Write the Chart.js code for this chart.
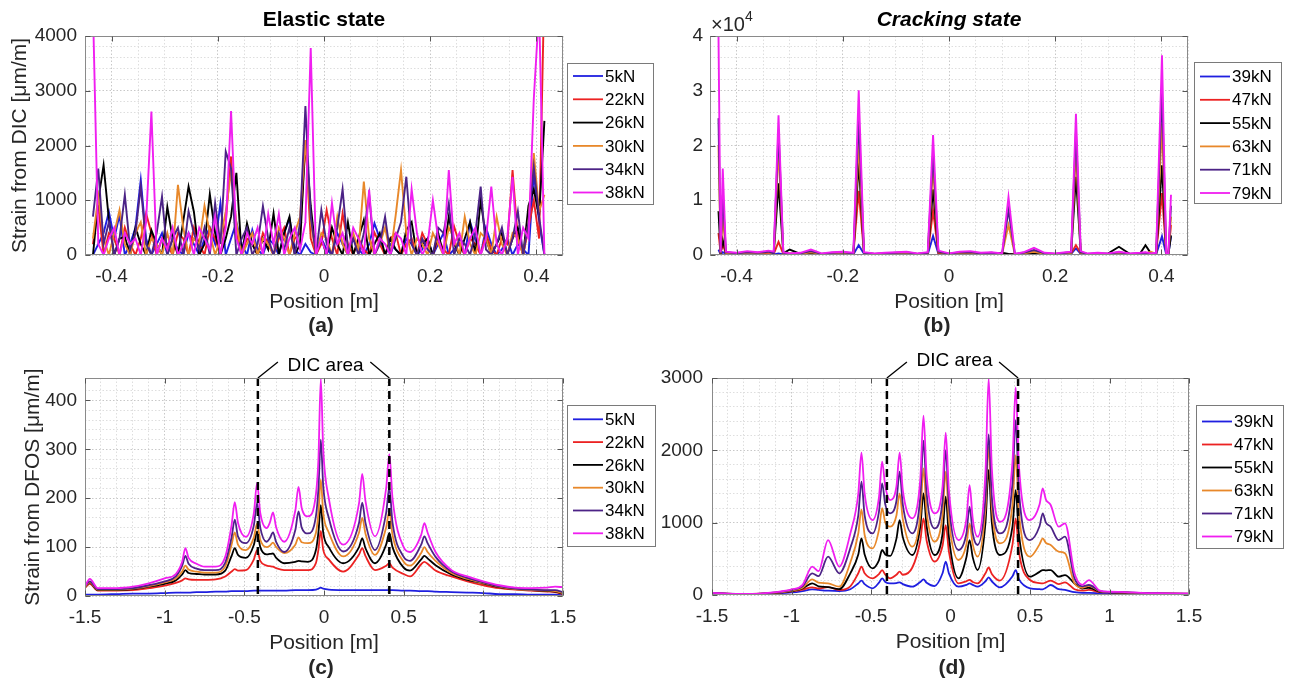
<!DOCTYPE html>
<html lang="en">
<head>
<meta charset="UTF-8">
<title>Strain from DIC and DFOS</title>
<style>
  body { margin: 0; background: #fff; }
  #wrap { position: relative; width: 1289px; height: 684px; }
  canvas { position: absolute; }
</style>
</head>
<body>
<div id="wrap">
  <canvas id="chartA" width="660" height="340" style="left:0;top:0"></canvas>
  <canvas id="chartB" width="629" height="340" style="left:660px;top:0"></canvas>
  <canvas id="chartC" width="660" height="344" style="left:0;top:340px"></canvas>
  <canvas id="chartD" width="629" height="344" style="left:660px;top:340px"></canvas>
</div>
<script src="https://cdn.jsdelivr.net/npm/chart.js"></script>
<script>
// ---- data ----
const elasticLoads = ['5kN', '22kN', '26kN', '30kN', '34kN', '38kN'];
const crackLoads = ['39kN', '47kN', '55kN', '63kN', '71kN', '79kN'];

// tick labels
const xTicksDic = [-0.4, -0.2, 0, 0.2, 0.4];
const yTicksDicE = [0, 1000, 2000, 3000, 4000];
const yTicksDicC = [0, 10000, 20000, 30000, 40000];
const xTicksDfos = [-1.5, -1, -0.5, 0, 0.5, 1, 1.5];
const yTicksDfosE = [0, 100, 200, 300, 400];
const yTicksDfosC = [0, 1000, 2000, 3000];

// DIC area limits drawn on the DFOS plots
const dicAreaE = [-0.415, 0.41];
const dicAreaC = [-0.40, 0.425];

// (a) DIC, elastic state
const dicPosE = [-0.435,-0.425,-0.415,-0.405,-0.395,-0.385,-0.375,-0.365,-0.355,-0.345,
  -0.335,-0.325,-0.315,-0.305,-0.295,-0.285,-0.275,-0.265,-0.255,-0.245,
  -0.235,-0.225,-0.215,-0.205,-0.195,-0.185,-0.175,-0.165,-0.155,-0.145,
  -0.135,-0.125,-0.115,-0.105,-0.095,-0.085,-0.075,-0.065,-0.055,-0.045,
  -0.035,-0.025,-0.015,-0.005,0.005,0.015,0.025,0.035,0.045,0.055,
  0.065,0.075,0.085,0.095,0.105,0.115,0.125,0.135,0.145,0.155,
  0.165,0.175,0.185,0.195,0.205,0.215,0.225,0.235,0.245,0.255,
  0.265,0.275,0.285,0.295,0.305,0.315,0.325,0.335,0.345,0.355,
  0.365,0.375,0.385,0.395,0.405,0.415];
const dicE5 = [0,200,400,790,300,730,0,200,500,1370,
  300,0,200,400,0,300,100,0,400,200,
  0,300,500,200,945,0,300,600,200,0,
  457,100,0,300,200,0,400,670,100,0,
  200,50,0,300,100,0,400,200,0,300,
  100,0,200,580,300,0,200,100,0,300,
  200,0,100,300,0,200,400,0,100,200,
  0,600,300,0,500,200,0,100,300,0,
  200,100,0,1500,600,0];
const dicE22 = [200,900,0,400,300,0,500,200,0,300,
  760,400,0,300,200,0,400,300,0,500,
  200,0,500,300,0,600,1800,400,0,300,
  200,0,400,200,0,300,500,0,300,400,
  2100,300,0,200,820,300,0,760,200,0,
  300,100,0,410,200,0,300,400,0,200,
  300,0,400,200,0,300,100,0,520,200,
  0,300,200,0,400,100,0,300,200,1550,
  300,0,500,1000,300,5000];
const dicE26 = [0,1000,1640,640,0,300,330,0,500,200,
  0,455,200,0,880,300,0,620,1250,790,
  0,200,1110,400,0,300,700,1500,0,580,
  200,0,300,100,760,0,400,700,0,200,
  2100,900,0,300,0,500,200,0,600,0,
  300,640,0,200,400,0,300,100,0,455,
  600,0,200,300,0,400,0,700,200,0,
  300,600,0,1000,300,0,200,400,0,300,
  500,0,900,1200,700,2450];
const dicE30 = [300,1065,300,0,400,820,200,0,400,600,
  0,300,200,0,400,0,1280,500,0,300,
  200,900,400,0,300,800,1500,600,0,200,
  400,0,300,200,0,500,300,0,400,700,
  2100,600,0,400,300,0,700,200,0,400,
  100,1340,300,0,200,500,0,730,1550,400,
  0,300,200,0,400,200,0,500,300,0,
  700,200,0,400,300,0,700,200,0,400,
  300,0,600,1860,800,1100];
const dicE34 = [700,1580,200,600,0,300,1100,100,400,1250,
  200,0,400,1065,0,300,500,0,800,400,
  100,500,0,945,200,1890,1580,0,300,500,
  0,200,895,300,0,400,100,500,0,600,
  2720,700,0,820,200,0,500,1200,100,300,
  0,400,1100,0,200,700,0,300,600,1430,
  200,0,300,100,0,500,400,945,0,300,
  200,0,400,1250,100,0,200,500,0,300,
  800,0,600,1610,700,0];
const dicE38 = [4500,200,0,300,500,0,400,200,300,0,
  600,2620,0,300,100,500,0,200,400,0,
  500,300,100,700,0,500,2630,300,0,400,
  200,500,0,750,200,750,0,300,500,100,
  600,3780,0,300,0,950,200,400,0,500,
  300,0,1190,0,300,200,0,400,300,0,
  1200,400,0,200,1000,300,0,1550,200,400,
  0,300,500,0,300,1250,200,0,300,1430,
  0,500,300,2850,4500,0];

// (b) DIC, cracking state
const dicPosC = [-0.434,-0.43,-0.426,-0.42,-0.40,-0.38,-0.36,-0.34,-0.33,-0.321,
  -0.312,-0.30,-0.28,-0.26,-0.24,-0.22,-0.20,-0.18,-0.17,-0.16,
  -0.14,-0.12,-0.10,-0.08,-0.06,-0.04,-0.03,-0.02,0.0,0.02,
  0.04,0.06,0.08,0.1,0.112,0.124,0.14,0.16,0.18,0.2,
  0.22,0.23,0.239,0.248,0.26,0.28,0.3,0.32,0.34,0.36,
  0.37,0.38,0.39,0.401,0.409,0.413,0.418];
const dicC39 = [1000,100,500,200,100,200,100,200,100,300,
  100,100,100,200,100,100,200,100,1800,200,
  100,100,100,200,100,100,3500,200,100,100,
  200,100,100,100,100,100,100,200,100,100,
  100,200,1200,200,100,100,100,200,100,100,
  200,100,100,3400,100,100,3400];
const dicC47 = [4000,300,2000,200,200,200,200,300,200,2400,
  200,300,200,300,200,200,200,200,11700,200,
  200,200,200,300,200,200,8100,300,200,200,
  300,200,200,200,100,100,200,300,200,200,
  200,300,1800,300,200,200,200,300,200,200,
  300,200,200,11300,200,200,5500];
const dicC55 = [8000,300,2800,300,200,300,300,600,200,13100,
  300,1000,200,400,200,300,300,200,17000,300,
  200,300,200,300,200,300,12000,500,200,300,
  300,200,200,400,200,100,300,300,300,200,
  200,300,14300,400,200,200,300,1500,200,300,
  1800,300,200,16400,200,100,3600];
const dicC63 = [20000,300,7000,400,200,400,300,500,200,19500,
  300,200,200,500,200,300,400,200,20500,300,
  200,200,300,400,200,300,16000,500,200,400,
  400,200,300,200,5500,100,300,600,200,200,
  300,400,19000,400,200,200,200,400,200,200,
  300,600,200,24000,200,100,7000];
const dicC71 = [25000,400,11000,500,300,500,400,600,300,22800,
  400,200,300,700,200,400,500,300,25000,400,
  200,300,400,500,200,400,18500,600,200,500,
  500,300,400,200,8200,200,400,900,300,200,
  400,500,22500,500,200,300,200,500,200,300,
  400,200,300,30000,200,100,9000];
const dicC79 = [40000,500,15800,600,400,700,500,800,600,25500,
  500,300,400,1000,300,500,600,400,30100,500,
  300,400,500,600,300,500,21900,800,300,600,
  700,400,500,300,10600,200,500,1300,400,300,
  500,600,25800,700,300,400,300,600,300,400,
  500,300,400,36500,300,200,11000];

// (c) DFOS, elastic state
const dfosPosE = [-1.5,-1.47,-1.42,-1.3,-1.2,-1.1,-1.0,-0.93,-0.89,-0.87,
  -0.85,-0.8,-0.75,-0.68,-0.62,-0.58,-0.56,-0.54,-0.49,-0.44,
  -0.42,-0.40,-0.36,-0.34,-0.32,-0.30,-0.25,-0.18,-0.16,-0.14,
  -0.1,-0.05,-0.035,-0.02,-0.005,0.03,0.12,0.22,0.24,0.26,
  0.32,0.39,0.41,0.43,0.5,0.54,0.61,0.63,0.65,0.7,
  0.8,0.9,1.0,1.1,1.2,1.3,1.4,1.45,1.5];
const dfosE5 = [3,3,3,4,5,5,6,7,7,7,
  7,8,8,9,9,10,10,10,10,11,
  11,11,11,11,11,11,11,12,12,12,
  12,13,15,17,15,13,12,12,12,12,
  12,12,12,12,11,11,10,10,10,9,
  8,7,6,4,4,3,3,3,2];
const dfosE22 = [17,25,11,11,12,16,21,27,32,36,
  34,33,33,34,40,50,55,52,53,75,
  94,72,62,61,60,57,53,53,53,53,
  53,68,95,133,95,75,50,85,98,82,
  53,62,67,58,45,40,65,70,66,52,
  40,30,22,16,13,11,9,8,4];
const dfosE26 = [18,27,12,12,14,19,25,32,44,53,
  47,45,44,44,52,82,98,84,78,105,
  132,100,85,86,87,78,67,70,72,71,
  70,95,130,186,130,100,67,100,118,98,
  67,105,129,100,58,52,75,82,77,63,
  44,33,26,18,14,12,10,9,5];
const dfosE30 = [18,28,13,13,15,20,28,36,50,62,
  54,50,48,48,60,105,130,105,94,120,
  148,115,100,103,109,100,88,105,120,110,
  108,130,170,238,170,130,81,130,160,128,
  84,140,173,125,70,62,88,100,90,72,
  47,35,27,19,14,12,11,10,6];
const dfosE34 = [20,30,14,14,16,22,30,40,62,82,
  66,56,53,53,68,120,156,122,108,145,
  190,140,111,118,130,110,90,135,173,140,
  128,165,220,320,225,160,91,150,191,150,
  94,170,221,150,80,72,105,122,108,80,
  50,37,28,20,15,13,12,12,8];
const dfosE38 = [20,35,16,16,19,26,36,45,70,98,
  78,66,60,60,80,145,192,150,121,170,
  231,170,139,150,171,140,111,175,223,180,
  163,210,280,445,300,200,105,190,250,195,
  122,220,290,200,100,90,125,149,130,90,
  53,40,30,22,17,16,17,19,18];

// (d) DFOS, cracking state
const dfosPosC = [-1.5,-1.4,-1.3,-1.2,-1.1,-1.0,-0.93,-0.87,-0.83,-0.77,
  -0.7,-0.63,-0.58,-0.56,-0.54,-0.49,-0.45,-0.43,-0.41,-0.38,
  -0.34,-0.32,-0.30,-0.24,-0.19,-0.17,-0.15,-0.1,-0.05,-0.03,
  -0.01,0.05,0.10,0.12,0.14,0.17,0.22,0.24,0.26,0.31,
  0.39,0.41,0.43,0.5,0.56,0.58,0.60,0.63,0.68,0.72,
  0.78,0.83,0.87,0.94,1.0,1.1,1.2,1.3,1.4,1.5];
const dfosC39 = [20,14,10,13,22,35,55,78,70,60,
  55,80,160,198,150,92,170,230,180,161,
  165,175,150,115,180,217,170,124,300,461,
  300,115,140,161,140,115,190,244,190,106,
  260,345,220,92,80,78,100,138,80,70,
  40,30,30,25,20,18,16,15,14,13];
const dfosC47 = [24,15,12,15,28,50,75,106,90,110,
  70,120,300,392,300,230,290,345,280,230,
  280,322,280,380,750,1060,750,461,680,967,
  600,161,190,210,180,161,300,380,290,200,
  700,1060,600,207,165,161,175,200,150,175,
  80,60,70,40,35,30,24,20,17,15];
const dfosC55 = [25,16,12,16,30,55,90,161,120,110,
  80,300,560,783,560,369,480,622,560,540,
  780,1036,800,553,950,1405,950,553,850,1359,
  800,230,520,760,520,345,1000,1728,1000,553,
  950,1451,850,253,320,345,340,345,253,276,
  160,90,100,45,38,32,25,21,18,16];
const dfosC63 = [26,17,13,17,32,62,100,217,170,161,
  115,450,850,1184,830,645,900,1200,1000,944,
  1100,1405,1050,668,1100,1751,1150,737,1100,1704,
  1050,484,700,991,700,530,1200,2050,1200,714,
  1250,1935,1150,530,700,783,720,691,599,576,
  161,100,128,50,40,35,26,22,19,17];
const dfosC71 = [28,18,14,18,35,70,120,300,260,530,
  300,650,1100,1566,1100,852,1150,1543,1250,1129,
  1300,1704,1250,852,1350,2133,1400,921,1300,2004,
  1250,622,850,1221,850,691,1350,2220,1350,852,
  1550,2418,1450,760,950,1129,1000,944,760,806,
  230,120,138,55,42,38,28,24,20,18];
const dfosC79 = [30,20,15,20,40,78,140,392,330,760,
  392,850,1400,1967,1400,1036,1350,1842,1500,1313,
  1500,1967,1450,1060,1600,2478,1650,1129,1500,2243,
  1450,760,1050,1520,1050,806,1700,2995,1750,1013,
  1850,2870,1800,1036,1250,1474,1320,1244,944,991,
  300,140,207,60,45,40,30,25,22,20];

// ---- styling ----
const FONT = '"Liberation Sans", Arial, Helvetica, sans-serif';
const TXT = '#262626';
const lineColors = ['#1f1fe0', '#ec2222', '#000000', '#e8882a', '#4c2386', '#f01ef0'];

Chart.defaults.font.family = FONT;
Chart.defaults.color = TXT;

function onList(list, v) {
  return list.some(m => Math.abs(m - v) < 1e-6);
}

function seg(ctx, x1, y1, x2, y2) {
  ctx.beginPath();
  ctx.moveTo(x1, y1);
  ctx.lineTo(x2, y2);
  ctx.stroke();
}

function makeSets(xs, series, labels, smooth) {
  return series.map((s, i) => ({
    label: labels[i],
    data: xs.map((x, j) => ({ x: x, y: s[j] })),
    borderColor: lineColors[i],
    backgroundColor: lineColors[i],
    borderWidth: smooth ? 1.8 : 1.9,
    pointRadius: 0,
    tension: 0,
    cubicInterpolationMode: smooth ? 'monotone' : 'default',
    fill: false,
    order: series.length - 1 - i
  }));
}

// box, inner ticks, titles, legend and DIC-area marks
const panelDecor = {
  id: 'panelDecor',
  afterDraw(chart, args, o) {
    const { ctx, chartArea: a } = chart;
    const xs = chart.scales.x, ys = chart.scales.y;
    ctx.save();

    if (o.dic) {
      const xl = xs.getPixelForValue(o.dic.bounds[0]);
      const xr = xs.getPixelForValue(o.dic.bounds[1]);
      ctx.strokeStyle = '#000';
      ctx.lineWidth = 2.5;
      ctx.setLineDash([8, 5]);
      seg(ctx, xl, a.top, xl, a.bottom);
      seg(ctx, xr, a.top, xr, a.bottom);
      ctx.setLineDash([]);
      ctx.lineWidth = 1.3;
      seg(ctx, xl, a.top, xl + 20, a.top - 16);
      seg(ctx, xr, a.top, xr - 19, a.top - 16);
      ctx.fillStyle = '#000';
      ctx.font = '19px ' + FONT;
      ctx.textAlign = 'center';
      ctx.textBaseline = 'middle';
      ctx.fillText('DIC area', (xl + xr) / 2 + 2, a.top + o.dic.dy);
    }

    // axes box
    const L = Math.round(a.left) + 0.5, R = Math.round(a.right) - 0.5;
    const T = Math.round(a.top) + 0.5, B = Math.round(a.bottom) - 0.5;
    ctx.strokeStyle = '#8a8a8a';
    ctx.lineWidth = 1;
    ctx.strokeRect(L, T, R - L, B - T);
    ctx.strokeStyle = '#555';
    o.xMajor.forEach(v => {
      const px = Math.round(xs.getPixelForValue(v)) + 0.5;
      seg(ctx, px, B, px, B - 5);
      seg(ctx, px, T, px, T + 5);
    });
    o.yMajor.forEach(v => {
      const py = Math.round(ys.getPixelForValue(v)) + 0.5;
      seg(ctx, L, py, L + 5, py);
      seg(ctx, R, py, R - 5, py);
    });

    ctx.fillStyle = '#000';
    ctx.textAlign = 'center';
    ctx.textBaseline = 'middle';
    if (o.title) {
      ctx.font = (o.title.italic ? 'italic ' : '') + 'bold 21px ' + FONT;
      ctx.fillText(o.title.text, (a.left + a.right) / 2, o.title.y);
    }
    ctx.font = 'bold 21px ' + FONT;
    ctx.fillStyle = TXT;
    ctx.fillText(o.tag.text, o.tag.x, o.tag.y);

    if (o.exponent) {
      ctx.textAlign = 'left';
      ctx.font = '20px ' + FONT;
      ctx.fillText('\u00d710', a.left + 1, a.top - 11);
      const w = ctx.measureText('\u00d710').width;
      ctx.font = '14px ' + FONT;
      ctx.fillText(o.exponent, a.left + 1 + w, a.top - 19);
    }

    // legend
    const lg = o.legend;
    ctx.fillStyle = '#fff';
    ctx.fillRect(lg.x, lg.y, lg.w, lg.h);
    ctx.strokeStyle = '#7a7a7a';
    ctx.lineWidth = 1;
    ctx.strokeRect(lg.x + 0.5, lg.y + 0.5, lg.w, lg.h);
    ctx.textAlign = 'left';
    ctx.font = '17px ' + FONT;
    chart.data.datasets.forEach((ds, i) => {
      const cy = lg.y + lg.row0 + i * lg.step;
      ctx.strokeStyle = ds.borderColor;
      ctx.lineWidth = 1.8;
      seg(ctx, lg.x + 6, cy, lg.x + 36, cy);
      ctx.fillStyle = '#000';
      ctx.fillText(ds.label, lg.x + 38, cy + 1);
    });
    ctx.restore();
  }
};

function axisX(min, max, step, majors, height) {
  return {
    type: 'linear', min: min, max: max,
    afterFit(s) { s.height = height; },
    ticks: {
      stepSize: step, autoSkip: false, maxRotation: 0, padding: 10,
      color: TXT, font: { size: 19 },
      callback: v => onList(majors, v) ? String(Number(v.toFixed(1))) : ''
    },
    grid: {
      drawTicks: false, lineWidth: 1,
      color: c => onList(majors, c.tick.value) ? '#c8c8c8' : '#dedede'
    },
    border: { display: false, dash: [1.5, 2] },
    title: {
      display: true, text: 'Position [m]', color: TXT,
      font: { size: 21 }, padding: { top: 0, bottom: height - 60 }
    }
  };
}

function axisY(max, step, majors, width, pad, title, titlePad, fmt) {
  return {
    type: 'linear', min: 0, max: max,
    afterFit(s) { s.width = width; },
    ticks: {
      stepSize: step, autoSkip: false, padding: pad,
      color: TXT, font: { size: 19 },
      callback: v => onList(majors, v) ? fmt(v) : ''
    },
    grid: {
      drawTicks: false, lineWidth: 1,
      color: c => onList(majors, c.tick.value) ? '#c8c8c8' : '#dedede'
    },
    border: { display: false, dash: [1.5, 2] },
    title: {
      display: !!title, text: title, color: TXT,
      font: { size: 21 }, padding: { top: titlePad, bottom: 0 }
    }
  };
}

function build(id, sets, xAxis, yAxis, padding, decor) {
  new Chart(document.getElementById(id), {
    type: 'line',
    data: { datasets: sets },
    options: {
      responsive: false,
      animation: false,
      events: [],
      layout: { padding: padding },
      scales: { x: xAxis, y: yAxis },
      plugins: { legend: { display: false }, tooltip: { enabled: false }, panelDecor: decor }
    },
    plugins: [panelDecor]
  });
}

// (a)
build('chartA',
  makeSets(dicPosE, [dicE5, dicE22, dicE26, dicE30, dicE34, dicE38], elasticLoads, false),
  axisX(-0.45, 0.45, 0.05, xTicksDic, 85),
  axisY(4000, 200, yTicksDicE, 85, 8, 'Strain from DIC [\u03bcm/m]', 8, v => String(v)),
  { left: 0, top: 36, right: 97, bottom: 0 },
  {
    xMajor: xTicksDic, yMajor: yTicksDicE,
    title: { text: 'Elastic state', y: 20 },
    tag: { text: '(a)', x: 321, y: 326 },
    legend: { x: 567, y: 63, w: 86, h: 141, row0: 13, step: 23.3 }
  });

// (b)
build('chartB',
  makeSets(dicPosC, [dicC39, dicC47, dicC55, dicC63, dicC71, dicC79], crackLoads, false),
  axisX(-0.45, 0.45, 0.05, xTicksDic, 85),
  axisY(40000, 2000, yTicksDicC, 50, 7, '', 0, v => String(v / 10000)),
  { left: 0, top: 36, right: 101, bottom: 0 },
  {
    xMajor: xTicksDic, yMajor: yTicksDicC,
    title: { text: 'Cracking state', y: 20, italic: true },
    tag: { text: '(b)', x: 277, y: 326 },
    exponent: '4',
    legend: { x: 534, y: 62, w: 87, h: 141, row0: 14.5, step: 23.3 }
  });

// (c)
build('chartC',
  makeSets(dfosPosE, [dfosE5, dfosE22, dfosE26, dfosE30, dfosE34, dfosE38], elasticLoads, true),
  axisX(-1.5, 1.5, 0.1, xTicksDfos, 88),
  axisY(446, 20, yTicksDfosE, 85, 8, 'Strain from DFOS [\u03bcm/m]', 21, v => String(v)),
  { left: 0, top: 38, right: 97, bottom: 0 },
  {
    xMajor: xTicksDfos, yMajor: yTicksDfosE,
    dic: { bounds: dicAreaE, dy: -12 },
    tag: { text: '(c)', x: 321, y: 328 },
    legend: { x: 567, y: 65, w: 88, h: 141, row0: 14.3, step: 22.8 }
  });

// (d)
build('chartD',
  makeSets(dfosPosC, [dfosC39, dfosC47, dfosC55, dfosC63, dfosC71, dfosC79], crackLoads, true),
  axisX(-1.5, 1.5, 0.1, xTicksDfos, 89),
  axisY(3000, 200, yTicksDfosC, 52, 9, '', 0, v => String(v)),
  { left: 0, top: 38, right: 100, bottom: 0 },
  {
    xMajor: xTicksDfos, yMajor: yTicksDfosC,
    dic: { bounds: dicAreaC, dy: -17 },
    tag: { text: '(d)', x: 292, y: 328 },
    legend: { x: 536, y: 65, w: 87, h: 143, row0: 16.5, step: 23 }
  });
</script>
</body>
</html>
